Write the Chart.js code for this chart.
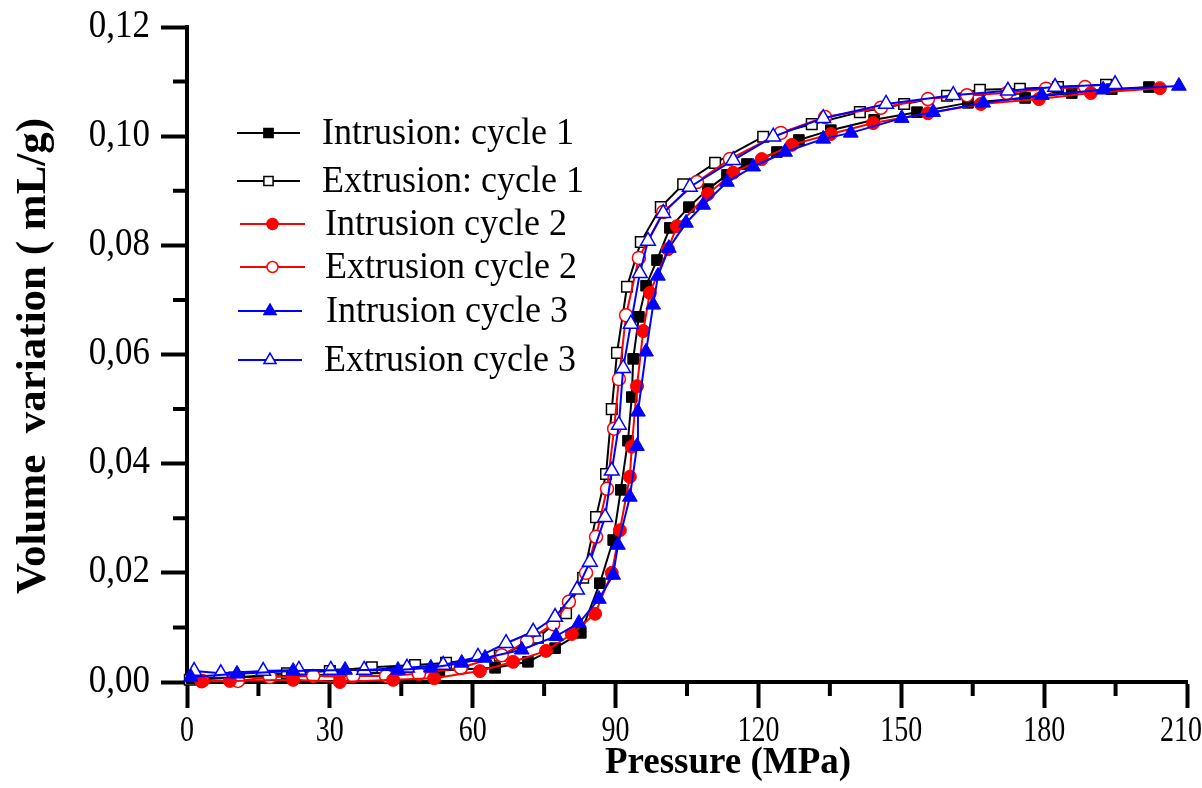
<!DOCTYPE html>
<html>
<head>
<meta charset="utf-8">
<script src="https://cdn.jsdelivr.net/npm/chart.js@4.4.1/dist/chart.umd.min.js"></script>
<style>
  html, body { margin: 0; padding: 0; background: #fff; overflow: hidden; }
  canvas { display: block; }
</style>
</head>
<body>
<canvas id="chart" width="1202" height="788"></canvas>
<script>
// Data: pressure (MPa) and volume variation (mL/g)
const intr1P = [1.0, 11, 22, 32, 43, 53, 64.7, 71.6, 77.3, 82.7, 86.7, 89.5, 91.1, 92.6, 93.4, 93.7, 94.9, 96.4, 98.7, 101.4, 105.4, 109.4, 113.4, 117.6, 123.9, 128.5, 135.2, 144.3, 153.3, 164.0, 176.0, 185.8, 194.2, 202.0];
const intr1V = [0.0007, 0.0009, 0.0011, 0.0014, 0.0017, 0.0021, 0.0026, 0.0037, 0.0062, 0.0090, 0.0181, 0.0260, 0.0352, 0.0442, 0.0522, 0.0592, 0.0669, 0.0726, 0.0773, 0.0832, 0.0870, 0.0903, 0.0929, 0.0949, 0.0971, 0.0993, 0.1011, 0.1030, 0.1044, 0.1061, 0.1070, 0.1079, 0.1086, 0.1090];

const extr1P = [0.6, 10, 21.0, 30, 38.8, 47.9, 54.4, 65.7, 73.7, 79.6, 83.2, 85.9, 88.0, 89.2, 90.3, 92.4, 95.3, 99.5, 104.2, 110.9, 121.0, 131.2, 141.3, 150.6, 159.6, 166.5, 174.9, 182.9, 193.0];
const extr1V = [0.0004, 0.0008, 0.0016, 0.0020, 0.0027, 0.0031, 0.0035, 0.0048, 0.0081, 0.0126, 0.0191, 0.0302, 0.0381, 0.0500, 0.0603, 0.0724, 0.0806, 0.0870, 0.0912, 0.0951, 0.0999, 0.1022, 0.1044, 0.1059, 0.1074, 0.1085, 0.1087, 0.1090, 0.1094];

const intr2P = [3, 9.0, 22.3, 32.1, 43.3, 51.9, 61.5, 68.5, 75.4, 80.8, 85.7, 89.2, 90.9, 93.0, 93.4, 94.5, 95.8, 97.2, 101.0, 102.9, 109.4, 114.7, 120.7, 127.0, 135.2, 144.1, 155.6, 166.7, 178.9, 189.8, 204.3];
const intr2V = [0.0001, 0.0002, 0.0004, 0.0000, 0.0004, 0.0007, 0.0020, 0.0037, 0.0057, 0.0088, 0.0125, 0.0200, 0.0278, 0.0376, 0.0431, 0.0542, 0.0643, 0.0713, 0.0793, 0.0835, 0.0894, 0.0933, 0.0958, 0.0984, 0.1004, 0.1024, 0.1042, 0.1059, 0.1068, 0.1079, 0.1088];

const extr2P = [3.2, 10.7, 17.4, 26.5, 34.9, 41.8, 48.7, 57.5, 66.1, 71.4, 76.9, 80.2, 83.8, 85.9, 88.2, 89.7, 90.7, 92.2, 94.9, 100.0, 107.1, 114.0, 124.7, 134.0, 145.7, 155.6, 163.8, 172.2, 180.4, 188.6];
const extr2V = [0.0002, 0.0002, 0.0009, 0.0011, 0.0011, 0.0011, 0.0015, 0.0026, 0.0049, 0.0075, 0.0106, 0.0147, 0.0200, 0.0266, 0.0354, 0.0464, 0.0555, 0.0672, 0.0777, 0.0861, 0.0916, 0.0958, 0.1006, 0.1035, 0.1052, 0.1068, 0.1075, 0.1079, 0.1087, 0.1090];

const intr3P = [0.8, 10.5, 22.3, 33.2, 44.3, 51.2, 57.7, 62.6, 70.3, 77.5, 82.3, 86.5, 89.5, 90.5, 93.0, 94.5, 94.7, 96.4, 97.9, 98.9, 101.2, 104.8, 108.4, 113.4, 118.9, 125.6, 133.6, 139.4, 150.1, 156.7, 167.2, 179.5, 192.4, 208.3];
const intr3V = [0.0009, 0.0015, 0.0020, 0.0022, 0.0022, 0.0026, 0.0035, 0.0044, 0.0059, 0.0084, 0.0108, 0.0152, 0.0196, 0.0251, 0.0339, 0.0432, 0.0495, 0.0605, 0.0691, 0.0744, 0.0795, 0.0841, 0.0874, 0.0916, 0.0944, 0.0971, 0.0995, 0.1006, 0.1033, 0.1044, 0.1061, 0.1075, 0.1085, 0.1092];

const extr3P = [1.5, 7.1, 16.0, 23.5, 30.2, 37.2, 46.2, 53.8, 61.1, 67.0, 72.7, 77.3, 81.9, 84.6, 87.8, 89.2, 90.7, 91.6, 93.2, 95.1, 96.8, 100.0, 105.6, 114.7, 123.1, 133.6, 146.8, 160.9, 172.4, 182.3, 194.9];
const extr3V = [0.0020, 0.0016, 0.0020, 0.0022, 0.0022, 0.0022, 0.0026, 0.0031, 0.0046, 0.0071, 0.0092, 0.0119, 0.0169, 0.0220, 0.0302, 0.0387, 0.0471, 0.0575, 0.0656, 0.0749, 0.0808, 0.0859, 0.0907, 0.0956, 0.0999, 0.1033, 0.1059, 0.1075, 0.1083, 0.1090, 0.1095];

const seriesNames = ['Intrusion: cycle 1', 'Extrusion: cycle 1', 'Intrusion cycle 2', 'Extrusion cycle 2', 'Intrusion cycle 3', 'Extrusion cycle 3'];
const xTicks = [0, 30, 60, 90, 120, 150, 180, 210];
const yTicks = [0, 0.02, 0.04, 0.06, 0.08, 0.10, 0.12];

const toPoints = (xs, ys) => xs.map((x, i) => ({ x: x, y: ys[i] }));

const FONT = '"Liberation Serif", "Times New Roman", serif';

function makeSet(label, xs, ys, color, style, filled, radius, order) {
    return {
        label: label,
        data: toPoints(xs, ys),
        borderColor: color,
        borderWidth: 2,
        pointStyle: style,
        pointRadius: radius,
        pointHoverRadius: radius,
        pointBorderColor: color,
        pointBackgroundColor: filled ? color : '#fff',
        pointBorderWidth: filled ? 1 : 1.5,
        tension: 0,
        clip: false,
        order: order
    };
}

// text stretched vertically, the figure uses a tall narrow face
function tallText(ctx, text, x, y, size, sy, align, bold) {
    ctx.save();
    ctx.translate(x, y);
    ctx.scale(1, sy);
    ctx.font = (bold ? 'bold ' : '') + size + 'px ' + FONT;
    ctx.textAlign = align;
    ctx.textBaseline = 'middle';
    ctx.fillText(text, 0, 0);
    ctx.restore();
}

// tick labels, minor ticks, axis titles and the in-plot legend
const decorPlugin = {
    id: 'decor',
    afterDraw(chart) {
        const ctx = chart.ctx;
        const xs = chart.scales.x;
        const ys = chart.scales.y;
        const area = chart.chartArea;
        ctx.save();
        ctx.strokeStyle = '#000';
        ctx.lineWidth = 4;
        ctx.beginPath();
        for (let v = 15; v < 210; v += 30) {
            const px = xs.getPixelForValue(v);
            ctx.moveTo(px, area.bottom);
            ctx.lineTo(px, area.bottom + 14);
        }
        for (let k = 1; k < 12; k += 2) {
            const py = ys.getPixelForValue(k / 100);
            ctx.moveTo(area.left, py);
            ctx.lineTo(area.left - 14, py);
        }
        ctx.stroke();

        ctx.fillStyle = '#000';
        // tick labels
        ctx.font = '28px ' + FONT;
        xs.ticks.forEach(t => {
            const label = String(t.value);
            const w = ctx.measureText(label).width;
            const px = Math.min(xs.getPixelForValue(t.value), chart.width - w / 2);
            tallText(ctx, label, px, 731, 28, 1.3, 'center', false);
        });
        ys.ticks.forEach(t => {
            const label = t.value.toFixed(2).replace('.', ',');
            tallText(ctx, label, 150, ys.getPixelForValue(t.value) - 1, 35, 1.15, 'right', false);
        });

        // axis titles
        tallText(ctx, 'Pressure (MPa)', 728, 763, 37, 1.0, 'center', true);
        ctx.save();
        ctx.translate(34, 356);
        ctx.rotate(-Math.PI / 2);
        ctx.font = 'bold 43px ' + FONT;
        ctx.textAlign = 'center';
        ctx.textBaseline = 'middle';
        ctx.fillText('Volume  variation ( mL/g)', 0, 0);
        ctx.restore();

        // legend
        const legY = [133, 181, 224, 267, 311, 360];
        const legX0 = [237, 237, 240, 240, 238, 238];
        const legX1 = [300, 300, 305, 305, 302, 302];
        const legTx = [322, 322, 325, 325, 326, 324];
        const legR = [6.5, 6.5, 5.5, 5.5, 7, 7];
        chart.data.datasets.forEach((ds, i) => {
            ctx.strokeStyle = ds.borderColor;
            ctx.lineWidth = 2;
            ctx.beginPath();
            ctx.moveTo(legX0[i], legY[i]);
            ctx.lineTo(legX1[i], legY[i]);
            ctx.stroke();
            ctx.fillStyle = ds.pointBackgroundColor;
            ctx.strokeStyle = ds.pointBorderColor;
            ctx.lineWidth = 1.5;
            Chart.helpers.drawPoint(ctx, {
                pointStyle: ds.pointStyle, rotation: 0, radius: legR[i], borderWidth: 1.5
            }, (legX0[i] + legX1[i]) / 2, legY[i]);
            ctx.fillStyle = '#000';
            tallText(ctx, seriesNames[i], legTx[i], legY[i] + 1, 36, 1.05, 'left', false);
        });
        ctx.restore();
    }
};

const chart = new Chart(document.getElementById('chart'), {
    type: 'line',
    data: {
        datasets: [
            makeSet(seriesNames[0], intr1P, intr1V, '#000000', 'rect', true, 7.5, 3),
            makeSet(seriesNames[1], extr1P, extr1V, '#000000', 'rect', false, 7.5, 3),
            makeSet(seriesNames[2], intr2P, intr2V, '#ff0000', 'circle', true, 6.5, 2),
            makeSet(seriesNames[3], extr2P, extr2V, '#ff0000', 'circle', false, 6.5, 2),
            makeSet(seriesNames[4], intr3P, intr3V, '#0000ff', 'triangle', true, 8.5, 1),
            makeSet(seriesNames[5], extr3P, extr3V, '#0000ff', 'triangle', false, 8.5, 1)
        ]
    },
    options: {
        responsive: false,
        animation: false,
        events: [],
        layout: { padding: { top: 27, right: 15, left: 0, bottom: 0 } },
        plugins: {
            legend: { display: false },
            tooltip: { enabled: false }
        },
        scales: {
            x: {
                type: 'linear',
                min: 0,
                max: 210,
                afterBuildTicks: (scale) => { scale.ticks = xTicks.map(v => ({ value: v })); },
                afterFit: (scale) => {
                    scale.height = 106;
                    scale.paddingLeft = 0;
                    scale.paddingRight = 0;
                },
                border: { display: true, color: '#000', width: 4 },
                grid: {
                    display: true,
                    drawOnChartArea: false,
                    drawTicks: true,
                    tickLength: 26,
                    tickWidth: 4,
                    tickColor: '#000'
                },
                ticks: { display: false }
            },
            y: {
                type: 'linear',
                min: 0,
                max: 0.12,
                afterBuildTicks: (scale) => { scale.ticks = yTicks.map(v => ({ value: v })); },
                afterFit: (scale) => {
                    scale.width = 187;
                    scale.paddingTop = 0;
                    scale.paddingBottom = 0;
                },
                border: { display: true, color: '#000', width: 4 },
                grid: {
                    display: true,
                    drawOnChartArea: false,
                    drawTicks: true,
                    tickLength: 26,
                    tickWidth: 4,
                    tickColor: '#000'
                },
                ticks: { display: false }
            }
        }
    },
    plugins: [decorPlugin]
});
</script>
</body>
</html>
